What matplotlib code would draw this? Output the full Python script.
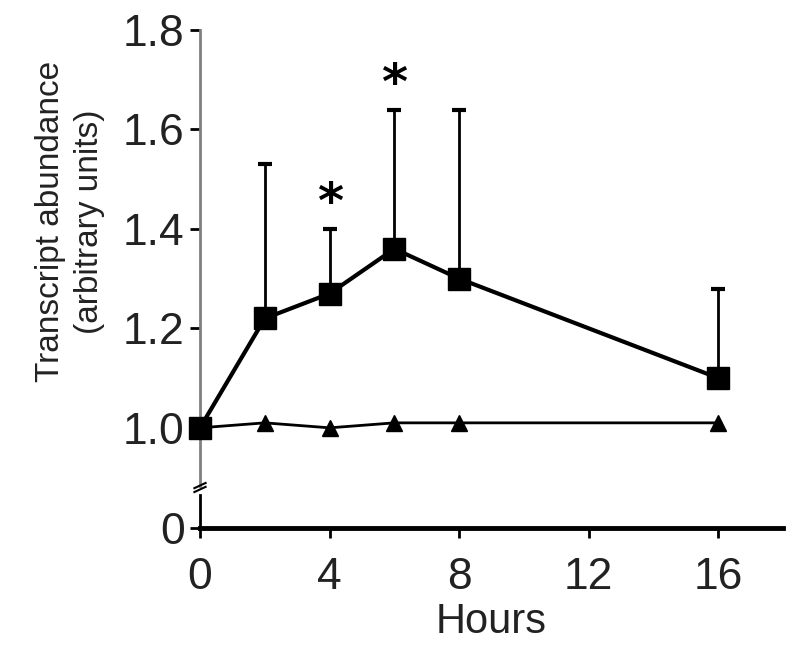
import matplotlib
matplotlib.use("Agg")
import matplotlib.pyplot as plt

hours = [0, 2, 4, 6, 8, 16]
treated = [1.0, 1.22, 1.27, 1.36, 1.30, 1.10]
treated_err = [0.0, 0.31, 0.13, 0.28, 0.34, 0.18]
control = [1.0, 1.01, 1.0, 1.01, 1.01, 1.01]
star_x = [4, 6]
star_y = [1.45, 1.69]
xticks = [0, 4, 8, 12, 16]
yticks = [1.0, 1.2, 1.4, 1.6, 1.8]

plt.rcParams["font.family"] = ["Liberation Sans", "DejaVu Sans"]
txt = "#222222"

fig = plt.figure(figsize=(8, 6.5), dpi=100)
ax = fig.add_axes([0.25, 0.2523, 0.729, 0.7015])
axb = fig.add_axes([0.25, 0.1877, 0.729, 0.0508])

# upper part (1.0 - 1.8)
ax.errorbar(hours, treated, yerr=[[0] * len(hours), treated_err], color="black",
            lw=3, marker="s", ms=16, capsize=5, capthick=3, elinewidth=2,
            clip_on=False, zorder=3)
ax.plot(hours, control, color="black", lw=2, marker="^", ms=11, clip_on=False, zorder=3)
for x, y in zip(star_x, star_y):
    ax.text(x, y, "*", ha="center", va="center", fontsize=36, fontweight="bold",
            family="DejaVu Sans")

ax.set_xlim(0, 18)
ax.set_ylim(0.883, 1.8)
ax.set_yticks(yticks)
ax.set_yticklabels([f"{v:.1f}" for v in yticks])
ax.set_xticks([])
for s in ["top", "right", "bottom"]:
    ax.spines[s].set_visible(False)
ax.spines["left"].set_color("#808080")
ax.spines["left"].set_linewidth(2)
ax.tick_params(axis="y", direction="out", length=7, width=2, labelsize=32, pad=4,
               labelcolor=txt)
ax.set_ylabel("Transcript abundance\n(arbitrary units)", fontsize=24,
              linespacing=1.35, color=txt)
ax.yaxis.set_label_coords(-0.163, 0.58)

# lower part (0)
axb.set_xlim(0, 18)
axb.set_ylim(0, 1)
axb.set_yticks([0])
axb.set_yticklabels(["0"])
axb.set_xticks(xticks)
axb.set_xticklabels([str(v) for v in xticks])
for s in ["top", "right"]:
    axb.spines[s].set_visible(False)
axb.spines["left"].set_linewidth(2)
axb.spines["bottom"].set_linewidth(3.5)
axb.tick_params(axis="y", direction="out", length=7, width=2, labelsize=32, pad=4,
                labelcolor=txt)
axb.tick_params(axis="x", direction="out", length=7, width=2, labelsize=32, pad=14,
                labelcolor=txt)
axb.set_xlabel("Hours", fontsize=30, labelpad=3, color=txt)
axb.patch.set_visible(False)

# axis break marks
for dy in [0.0, 0.006]:
    fig.add_artist(plt.Line2D([0.243, 0.257], [0.243 + dy, 0.251 + dy],
                              color="black", lw=1.5))

fig.savefig("out.png", dpi=100)
